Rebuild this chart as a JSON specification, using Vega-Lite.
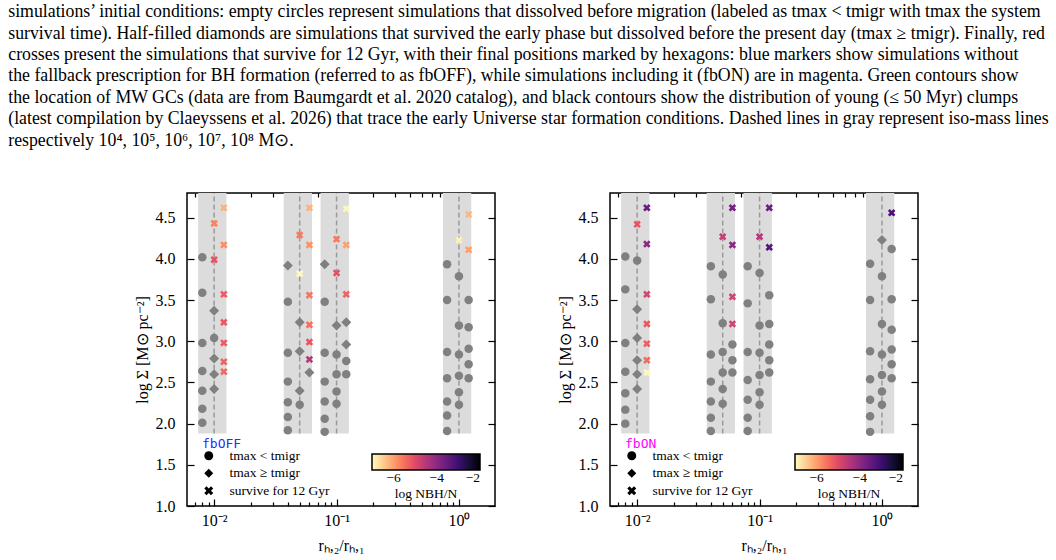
{
 "$schema": "https://vega.github.io/schema/vega-lite/v6.json",
 "padding": {"left": 8, "top": 3, "right": 0, "bottom": 0},
 "title": {
  "text": [
   "simulations’ initial conditions: empty circles represent simulations that dissolved before migration (labeled as tmax < tmigr with tmax the system",
   "survival time). Half-filled diamonds are simulations that survived the early phase but dissolved before the present day (tmax ≥ tmigr). Finally, red",
   "crosses present the simulations that survive for 12 Gyr, with their final positions marked by hexagons: blue markers show simulations without",
   "the fallback prescription for BH formation (referred to as fbOFF), while simulations including it (fbON) are in magenta. Green contours show",
   "the location of MW GCs (data are from Baumgardt et al. 2020 catalog), and black contours show the distribution of young (≤ 50 Myr) clumps",
   "(latest compilation by Claeyssens et al. 2026) that trace the early Universe star formation conditions. Dashed lines in gray represent iso-mass lines",
   "respectively 10⁴, 10⁵, 10⁶, 10⁷, 10⁸ M⊙."
  ],
  "anchor": "start", "frame": "bounds", "dx": -125, "offset": 42,
  "font": "Liberation Serif", "fontSize": 17.8, "fontWeight": "normal", "lineHeight": 21.4, "color": "black"
 },
 "datasets": {
  "bands": [
   {"p": "fbOFF", "c": 0.01, "lo": 0.0074, "hi": 0.0126},
   {"p": "fbOFF", "c": 0.05, "lo": 0.037, "hi": 0.063},
   {"p": "fbOFF", "c": 0.1, "lo": 0.074, "hi": 0.126},
   {"p": "fbOFF", "c": 1, "lo": 0.74, "hi": 1.26},
   {"p": "fbON", "c": 0.01, "lo": 0.0074, "hi": 0.0126},
   {"p": "fbON", "c": 0.05, "lo": 0.037, "hi": 0.063},
   {"p": "fbON", "c": 0.1, "lo": 0.074, "hi": 0.126},
   {"p": "fbON", "c": 1, "lo": 0.74, "hi": 1.26}
  ],
  "pts": [
   {"p": "fbOFF", "x": 0.008, "y": 4.02, "t": "a"},
   {"p": "fbOFF", "x": 0.008, "y": 3.59, "t": "a"},
   {"p": "fbOFF", "x": 0.008, "y": 2.98, "t": "a"},
   {"p": "fbOFF", "x": 0.008, "y": 2.64, "t": "a"},
   {"p": "fbOFF", "x": 0.008, "y": 2.40, "t": "a"},
   {"p": "fbOFF", "x": 0.008, "y": 2.18, "t": "a"},
   {"p": "fbOFF", "x": 0.008, "y": 2.01, "t": "a"},
   {"p": "fbOFF", "x": 0.01, "y": 4.43, "t": "c", "n": -5.7},
   {"p": "fbOFF", "x": 0.01, "y": 3.99, "t": "c", "n": -5.15},
   {"p": "fbOFF", "x": 0.01, "y": 3.37, "t": "b"},
   {"p": "fbOFF", "x": 0.01, "y": 3.04, "t": "a"},
   {"p": "fbOFF", "x": 0.01, "y": 2.79, "t": "b"},
   {"p": "fbOFF", "x": 0.01, "y": 2.60, "t": "b"},
   {"p": "fbOFF", "x": 0.01, "y": 2.42, "t": "b"},
   {"p": "fbOFF", "x": 0.012, "y": 4.62, "t": "c", "n": -6.2},
   {"p": "fbOFF", "x": 0.012, "y": 4.17, "t": "c", "n": -5.8},
   {"p": "fbOFF", "x": 0.012, "y": 3.57, "t": "c", "n": -5.25},
   {"p": "fbOFF", "x": 0.012, "y": 3.23, "t": "c", "n": -5.2},
   {"p": "fbOFF", "x": 0.012, "y": 2.98, "t": "c", "n": -5.25},
   {"p": "fbOFF", "x": 0.012, "y": 2.75, "t": "c", "n": -5.35},
   {"p": "fbOFF", "x": 0.012, "y": 2.63, "t": "c", "n": -5.45},
   {"p": "fbOFF", "x": 0.04, "y": 3.92, "t": "b"},
   {"p": "fbOFF", "x": 0.04, "y": 3.48, "t": "a"},
   {"p": "fbOFF", "x": 0.04, "y": 2.86, "t": "a"},
   {"p": "fbOFF", "x": 0.04, "y": 2.51, "t": "a"},
   {"p": "fbOFF", "x": 0.04, "y": 2.26, "t": "a"},
   {"p": "fbOFF", "x": 0.04, "y": 2.08, "t": "a"},
   {"p": "fbOFF", "x": 0.04, "y": 1.92, "t": "a"},
   {"p": "fbOFF", "x": 0.05, "y": 4.29, "t": "c", "n": -5.6},
   {"p": "fbOFF", "x": 0.05, "y": 3.82, "t": "c", "n": -7.0},
   {"p": "fbOFF", "x": 0.05, "y": 3.23, "t": "b"},
   {"p": "fbOFF", "x": 0.05, "y": 2.88, "t": "b"},
   {"p": "fbOFF", "x": 0.05, "y": 2.40, "t": "b"},
   {"p": "fbOFF", "x": 0.05, "y": 2.23, "t": "a"},
   {"p": "fbOFF", "x": 0.06, "y": 4.62, "t": "c", "n": -6.2},
   {"p": "fbOFF", "x": 0.06, "y": 4.17, "t": "c", "n": -5.85},
   {"p": "fbOFF", "x": 0.06, "y": 3.56, "t": "c", "n": -5.55},
   {"p": "fbOFF", "x": 0.06, "y": 3.20, "t": "c", "n": -5.5},
   {"p": "fbOFF", "x": 0.06, "y": 2.99, "t": "c", "n": -5.15},
   {"p": "fbOFF", "x": 0.06, "y": 2.78, "t": "c", "n": -4.5},
   {"p": "fbOFF", "x": 0.06, "y": 2.62, "t": "b"},
   {"p": "fbOFF", "x": 0.08, "y": 3.935, "t": "b"},
   {"p": "fbOFF", "x": 0.08, "y": 3.48, "t": "a"},
   {"p": "fbOFF", "x": 0.08, "y": 2.86, "t": "a"},
   {"p": "fbOFF", "x": 0.08, "y": 2.51, "t": "a"},
   {"p": "fbOFF", "x": 0.08, "y": 2.27, "t": "a"},
   {"p": "fbOFF", "x": 0.08, "y": 2.06, "t": "a"},
   {"p": "fbOFF", "x": 0.08, "y": 1.90, "t": "a"},
   {"p": "fbOFF", "x": 0.1, "y": 4.24, "t": "c", "n": -5.6},
   {"p": "fbOFF", "x": 0.1, "y": 3.83, "t": "c", "n": -5.1},
   {"p": "fbOFF", "x": 0.1, "y": 3.19, "t": "b"},
   {"p": "fbOFF", "x": 0.1, "y": 2.84, "t": "a"},
   {"p": "fbOFF", "x": 0.1, "y": 2.60, "t": "a"},
   {"p": "fbOFF", "x": 0.1, "y": 2.39, "t": "a"},
   {"p": "fbOFF", "x": 0.1, "y": 2.24, "t": "a"},
   {"p": "fbOFF", "x": 0.12, "y": 4.61, "t": "c", "n": -6.95},
   {"p": "fbOFF", "x": 0.12, "y": 4.17, "t": "c", "n": -6.0},
   {"p": "fbOFF", "x": 0.12, "y": 3.57, "t": "c", "n": -5.35},
   {"p": "fbOFF", "x": 0.12, "y": 3.23, "t": "b"},
   {"p": "fbOFF", "x": 0.12, "y": 2.96, "t": "b"},
   {"p": "fbOFF", "x": 0.12, "y": 2.76, "t": "a"},
   {"p": "fbOFF", "x": 0.12, "y": 2.60, "t": "a"},
   {"p": "fbOFF", "x": 0.8, "y": 3.935, "t": "a"},
   {"p": "fbOFF", "x": 0.8, "y": 3.50, "t": "a"},
   {"p": "fbOFF", "x": 0.8, "y": 2.87, "t": "a"},
   {"p": "fbOFF", "x": 0.8, "y": 2.55, "t": "a"},
   {"p": "fbOFF", "x": 0.8, "y": 2.27, "t": "a"},
   {"p": "fbOFF", "x": 0.8, "y": 2.10, "t": "a"},
   {"p": "fbOFF", "x": 0.8, "y": 1.91, "t": "a"},
   {"p": "fbOFF", "x": 1, "y": 4.23, "t": "c", "n": -6.9},
   {"p": "fbOFF", "x": 1, "y": 3.79, "t": "a"},
   {"p": "fbOFF", "x": 1, "y": 3.19, "t": "a"},
   {"p": "fbOFF", "x": 1, "y": 2.84, "t": "a"},
   {"p": "fbOFF", "x": 1, "y": 2.58, "t": "a"},
   {"p": "fbOFF", "x": 1, "y": 2.38, "t": "a"},
   {"p": "fbOFF", "x": 1, "y": 2.23, "t": "a"},
   {"p": "fbOFF", "x": 1.2, "y": 4.54, "t": "c", "n": -6.25},
   {"p": "fbOFF", "x": 1.2, "y": 4.11, "t": "c", "n": -6.0},
   {"p": "fbOFF", "x": 1.2, "y": 3.50, "t": "a"},
   {"p": "fbOFF", "x": 1.2, "y": 3.17, "t": "a"},
   {"p": "fbOFF", "x": 1.2, "y": 2.91, "t": "a"},
   {"p": "fbOFF", "x": 1.2, "y": 2.72, "t": "a"},
   {"p": "fbOFF", "x": 1.2, "y": 2.55, "t": "a"},

   {"p": "fbON", "x": 0.008, "y": 4.03, "t": "a"},
   {"p": "fbON", "x": 0.008, "y": 3.63, "t": "a"},
   {"p": "fbON", "x": 0.008, "y": 2.98, "t": "a"},
   {"p": "fbON", "x": 0.008, "y": 2.63, "t": "a"},
   {"p": "fbON", "x": 0.008, "y": 2.37, "t": "a"},
   {"p": "fbON", "x": 0.008, "y": 2.17, "t": "a"},
   {"p": "fbON", "x": 0.008, "y": 2.00, "t": "a"},
   {"p": "fbON", "x": 0.01, "y": 4.42, "t": "c", "n": -5.15},
   {"p": "fbON", "x": 0.01, "y": 3.98, "t": "a"},
   {"p": "fbON", "x": 0.01, "y": 3.39, "t": "b"},
   {"p": "fbON", "x": 0.01, "y": 3.04, "t": "b"},
   {"p": "fbON", "x": 0.01, "y": 2.77, "t": "b"},
   {"p": "fbON", "x": 0.01, "y": 2.60, "t": "b"},
   {"p": "fbON", "x": 0.01, "y": 2.42, "t": "b"},
   {"p": "fbON", "x": 0.012, "y": 4.62, "t": "c", "n": -3.55},
   {"p": "fbON", "x": 0.012, "y": 4.18, "t": "c", "n": -4.0},
   {"p": "fbON", "x": 0.012, "y": 3.57, "t": "c", "n": -4.9},
   {"p": "fbON", "x": 0.012, "y": 3.21, "t": "c", "n": -5.2},
   {"p": "fbON", "x": 0.012, "y": 2.97, "t": "c", "n": -5.3},
   {"p": "fbON", "x": 0.012, "y": 2.77, "t": "c", "n": -5.45},
   {"p": "fbON", "x": 0.012, "y": 2.62, "t": "c", "n": -6.95},
   {"p": "fbON", "x": 0.04, "y": 3.91, "t": "a"},
   {"p": "fbON", "x": 0.04, "y": 3.51, "t": "a"},
   {"p": "fbON", "x": 0.04, "y": 2.84, "t": "a"},
   {"p": "fbON", "x": 0.04, "y": 2.51, "t": "a"},
   {"p": "fbON", "x": 0.04, "y": 2.27, "t": "a"},
   {"p": "fbON", "x": 0.04, "y": 2.07, "t": "a"},
   {"p": "fbON", "x": 0.04, "y": 1.91, "t": "a"},
   {"p": "fbON", "x": 0.05, "y": 4.27, "t": "c", "n": -4.7},
   {"p": "fbON", "x": 0.05, "y": 3.81, "t": "a"},
   {"p": "fbON", "x": 0.05, "y": 3.22, "t": "a"},
   {"p": "fbON", "x": 0.05, "y": 2.87, "t": "a"},
   {"p": "fbON", "x": 0.05, "y": 2.62, "t": "a"},
   {"p": "fbON", "x": 0.05, "y": 2.42, "t": "a"},
   {"p": "fbON", "x": 0.05, "y": 2.24, "t": "a"},
   {"p": "fbON", "x": 0.06, "y": 4.62, "t": "c", "n": -3.7},
   {"p": "fbON", "x": 0.06, "y": 4.17, "t": "c", "n": -4.0},
   {"p": "fbON", "x": 0.06, "y": 3.54, "t": "c", "n": -4.85},
   {"p": "fbON", "x": 0.06, "y": 3.21, "t": "c", "n": -4.85},
   {"p": "fbON", "x": 0.06, "y": 2.96, "t": "a"},
   {"p": "fbON", "x": 0.06, "y": 2.77, "t": "a"},
   {"p": "fbON", "x": 0.06, "y": 2.62, "t": "a"},
   {"p": "fbON", "x": 0.08, "y": 3.91, "t": "a"},
   {"p": "fbON", "x": 0.08, "y": 3.46, "t": "a"},
   {"p": "fbON", "x": 0.08, "y": 2.87, "t": "a"},
   {"p": "fbON", "x": 0.08, "y": 2.53, "t": "a"},
   {"p": "fbON", "x": 0.08, "y": 2.29, "t": "a"},
   {"p": "fbON", "x": 0.08, "y": 2.07, "t": "a"},
   {"p": "fbON", "x": 0.08, "y": 1.91, "t": "a"},
   {"p": "fbON", "x": 0.1, "y": 4.27, "t": "c", "n": -4.5},
   {"p": "fbON", "x": 0.1, "y": 3.83, "t": "a"},
   {"p": "fbON", "x": 0.1, "y": 3.19, "t": "a"},
   {"p": "fbON", "x": 0.1, "y": 2.86, "t": "a"},
   {"p": "fbON", "x": 0.1, "y": 2.59, "t": "a"},
   {"p": "fbON", "x": 0.1, "y": 2.38, "t": "a"},
   {"p": "fbON", "x": 0.1, "y": 2.23, "t": "a"},
   {"p": "fbON", "x": 0.12, "y": 4.62, "t": "c", "n": -3.6},
   {"p": "fbON", "x": 0.12, "y": 4.14, "t": "c", "n": -3.3},
   {"p": "fbON", "x": 0.12, "y": 3.56, "t": "a"},
   {"p": "fbON", "x": 0.12, "y": 3.21, "t": "a"},
   {"p": "fbON", "x": 0.12, "y": 2.96, "t": "a"},
   {"p": "fbON", "x": 0.12, "y": 2.77, "t": "a"},
   {"p": "fbON", "x": 0.12, "y": 2.62, "t": "a"},
   {"p": "fbON", "x": 0.8, "y": 3.94, "t": "a"},
   {"p": "fbON", "x": 0.8, "y": 3.50, "t": "a"},
   {"p": "fbON", "x": 0.8, "y": 2.88, "t": "a"},
   {"p": "fbON", "x": 0.8, "y": 2.54, "t": "a"},
   {"p": "fbON", "x": 0.8, "y": 2.29, "t": "a"},
   {"p": "fbON", "x": 0.8, "y": 2.09, "t": "a"},
   {"p": "fbON", "x": 0.8, "y": 1.90, "t": "a"},
   {"p": "fbON", "x": 1, "y": 4.23, "t": "b"},
   {"p": "fbON", "x": 1, "y": 3.79, "t": "a"},
   {"p": "fbON", "x": 1, "y": 3.21, "t": "a"},
   {"p": "fbON", "x": 1, "y": 2.84, "t": "a"},
   {"p": "fbON", "x": 1, "y": 2.59, "t": "a"},
   {"p": "fbON", "x": 1, "y": 2.39, "t": "a"},
   {"p": "fbON", "x": 1, "y": 2.23, "t": "a"},
   {"p": "fbON", "x": 1.2, "y": 4.56, "t": "c", "n": -3.2},
   {"p": "fbON", "x": 1.2, "y": 4.12, "t": "a"},
   {"p": "fbON", "x": 1.2, "y": 3.51, "t": "a"},
   {"p": "fbON", "x": 1.2, "y": 3.14, "t": "a"},
   {"p": "fbON", "x": 1.2, "y": 2.90, "t": "a"},
   {"p": "fbON", "x": 1.2, "y": 2.72, "t": "a"},
   {"p": "fbON", "x": 1.2, "y": 2.55, "t": "a"}
  ]
 },
 "spacing": 59,
 "hconcat": [
  {
   "width": 308, "height": 313,
   "layer": [
    {
     "data": {"name": "bands"},
     "transform": [{"filter": "datum.p === 'fbOFF'"}],
     "mark": {"type": "rect", "color": "#dcdcdc"},
     "encoding": {
      "x": {"field": "lo", "type": "quantitative", "scale": {"type": "log", "domain": [0.006, 1.97], "nice": false},
       "axis": {"orient": "bottom", "title": "rₕ,₂/rₕ,₁", "values": [0.007,0.008,0.009,0.01,0.02,0.03,0.04,0.05,0.06,0.07,0.08,0.09,0.1,0.2,0.3,0.4,0.5,0.6,0.7,0.8,0.9,1],
        "labelExpr": "datum.value == 0.01 ? '10⁻²' : datum.value == 0.1 ? '10⁻¹' : datum.value == 1 ? '10⁰' : ''",
        "tickSize": {"condition": {"test": "datum.value == 0.01 || datum.value == 0.1 || datum.value == 1", "value": -7}, "value": -4},
        "labelPadding": 13, "titlePadding": 6, "labelOverlap": false, "labelFlush": false}},
      "x2": {"field": "hi"},
      "y": {"datum": 1.88, "type": "quantitative", "scale": {"domain": [1, 4.8], "nice": false, "zero": false},
       "axis": {"orient": "left", "title": "log Σ [M⊙ pc⁻²]", "values": [1,1.5,2,2.5,3,3.5,4,4.5], "format": ".1f", "tickSize": -7, "labelPadding": 19, "titlePadding": 5}},
      "y2": {"datum": 4.8}
     }
    },
    {
     "data": {"name": "bands"},
     "transform": [{"filter": "datum.p === 'fbOFF'"}],
     "mark": {"type": "rule", "color": "#9a9a9a", "strokeDash": [5, 3], "strokeWidth": 1.5},
     "encoding": {
      "x": {"field": "c", "type": "quantitative",
       "axis": {"orient": "top", "title": null, "labels": false, "values": [0.007,0.008,0.009,0.01,0.02,0.03,0.04,0.05,0.06,0.07,0.08,0.09,0.1,0.2,0.3,0.4,0.5,0.6,0.7,0.8,0.9,1],
        "tickSize": {"condition": {"test": "datum.value == 0.01 || datum.value == 0.1 || datum.value == 1", "value": -7}, "value": -4}}},
      "y": {"datum": 1.88, "type": "quantitative", "axis": {"orient": "right", "title": null, "labels": false, "values": [1,1.5,2,2.5,3,3.5,4,4.5], "tickSize": -7}},
      "y2": {"datum": 4.8}
     }
    },
    {
     "data": {"name": "pts"},
     "transform": [{"filter": "datum.p === 'fbOFF'"}],
     "mark": {"type": "point", "filled": true, "color": "black", "opacity": 0, "strokeWidth": 0},
     "encoding": {
      "x": {"field": "x", "type": "quantitative", "axis": null},
      "y": {"field": "y", "type": "quantitative", "axis": null},
      "shape": {"field": "t", "type": "nominal", "scale": {"domain": ["a", "b", "c"], "range": ["circle", "diamond", "M-1,-0.5L-0.5,-1L0,-0.5L0.5,-1L1,-0.5L0.5,0L1,0.5L0.5,1L0,0.5L-0.5,1L-1,0.5L-0.5,0Z"]},
       "legend": {"orient": "none", "legendX": 15, "legendY": 245, "title": "fbOFF", "titleColor": "#2a2aff", "titleFont": "DejaVu Sans Mono", "titleFontSize": 13, "titleFontWeight": "normal", "titlePadding": -2,
        "labelExpr": "datum.label == 'a' ? 'tmax < tmigr' : datum.label == 'b' ? 'tmax ≥ tmigr' : 'survive for 12 Gyr'",
        "labelFont": "Liberation Serif", "labelFontSize": 13.5, "labelOffset": 14, "symbolSize": 80, "rowPadding": 1.5, "symbolOpacity": 1, "symbolFillColor": "black", "symbolStrokeColor": "black",
        "encode": {"symbols": {"update": {"fill": {"value": "black"}, "opacity": {"value": 1}}}}}}
     }
    },
    {
     "data": {"name": "pts"},
     "transform": [{"filter": "datum.p === 'fbOFF' && datum.t === 'a'"}],
     "mark": {"type": "point", "filled": true, "color": "#808080", "opacity": 1, "strokeWidth": 0, "size": 72},
     "encoding": {
      "x": {"field": "x", "type": "quantitative", "axis": null},
      "y": {"field": "y", "type": "quantitative", "axis": null},
      "shape": {"field": "t", "type": "nominal", "legend": null}
     }
    },
    {
     "data": {"name": "pts"},
     "transform": [{"filter": "datum.p === 'fbOFF' && datum.t === 'b'"}],
     "mark": {"type": "point", "filled": true, "color": "#808080", "opacity": 1, "strokeWidth": 0, "size": 100},
     "encoding": {
      "x": {"field": "x", "type": "quantitative", "axis": null},
      "y": {"field": "y", "type": "quantitative", "axis": null},
      "shape": {"field": "t", "type": "nominal", "legend": null}
     }
    },
    {
     "data": {"name": "pts"},
     "transform": [{"filter": "datum.p === 'fbOFF' && datum.t === 'c'"}],
     "mark": {"type": "point", "filled": true, "opacity": 1, "strokeWidth": 0, "size": 56},
     "encoding": {
      "x": {"field": "x", "type": "quantitative", "axis": null},
      "y": {"field": "y", "type": "quantitative", "axis": null},
      "shape": {"field": "t", "type": "nominal", "legend": null},
      "color": {"field": "n", "type": "quantitative", "scale": {"scheme": "magma", "reverse": true, "domain": [-7, -2]},
       "legend": {"orient": "none", "legendX": 185, "legendY": 261, "direction": "horizontal", "gradientLength": 108, "gradientThickness": 16,
        "values": [-6, -4, -2], "title": "log NBH/N", "titleOrient": "bottom", "titleAnchor": "middle", "titleFont": "Liberation Serif", "titleFontSize": 13.5, "titleFontWeight": "normal", "titlePadding": 2,
        "labelFont": "Liberation Serif", "labelFontSize": 13.5, "labelAlign": "center", "labelOffset": 1, "gradientStrokeColor": "black", "gradientStrokeWidth": 1.5}}
     }
    }
   ],
   "resolve": {"axis": {"x": "independent", "y": "independent"}}
  },
  {
   "width": 308, "height": 313,
   "layer": [
    {
     "data": {"name": "bands"},
     "transform": [{"filter": "datum.p === 'fbON'"}],
     "mark": {"type": "rect", "color": "#dcdcdc"},
     "encoding": {
      "x": {"field": "lo", "type": "quantitative", "scale": {"type": "log", "domain": [0.006, 1.97], "nice": false},
       "axis": {"orient": "bottom", "title": "rₕ,₂/rₕ,₁", "values": [0.007,0.008,0.009,0.01,0.02,0.03,0.04,0.05,0.06,0.07,0.08,0.09,0.1,0.2,0.3,0.4,0.5,0.6,0.7,0.8,0.9,1],
        "labelExpr": "datum.value == 0.01 ? '10⁻²' : datum.value == 0.1 ? '10⁻¹' : datum.value == 1 ? '10⁰' : ''",
        "tickSize": {"condition": {"test": "datum.value == 0.01 || datum.value == 0.1 || datum.value == 1", "value": -7}, "value": -4},
        "labelPadding": 13, "titlePadding": 6, "labelOverlap": false, "labelFlush": false}},
      "x2": {"field": "hi"},
      "y": {"datum": 1.88, "type": "quantitative", "scale": {"domain": [1, 4.8], "nice": false, "zero": false},
       "axis": {"orient": "left", "title": "log Σ [M⊙ pc⁻²]", "values": [1,1.5,2,2.5,3,3.5,4,4.5], "format": ".1f", "tickSize": -7, "labelPadding": 19, "titlePadding": 5}},
      "y2": {"datum": 4.8}
     }
    },
    {
     "data": {"name": "bands"},
     "transform": [{"filter": "datum.p === 'fbON'"}],
     "mark": {"type": "rule", "color": "#9a9a9a", "strokeDash": [5, 3], "strokeWidth": 1.5},
     "encoding": {
      "x": {"field": "c", "type": "quantitative",
       "axis": {"orient": "top", "title": null, "labels": false, "values": [0.007,0.008,0.009,0.01,0.02,0.03,0.04,0.05,0.06,0.07,0.08,0.09,0.1,0.2,0.3,0.4,0.5,0.6,0.7,0.8,0.9,1],
        "tickSize": {"condition": {"test": "datum.value == 0.01 || datum.value == 0.1 || datum.value == 1", "value": -7}, "value": -4}}},
      "y": {"datum": 1.88, "type": "quantitative", "axis": {"orient": "right", "title": null, "labels": false, "values": [1,1.5,2,2.5,3,3.5,4,4.5], "tickSize": -7}},
      "y2": {"datum": 4.8}
     }
    },
    {
     "data": {"name": "pts"},
     "transform": [{"filter": "datum.p === 'fbON'"}],
     "mark": {"type": "point", "filled": true, "color": "black", "opacity": 0, "strokeWidth": 0},
     "encoding": {
      "x": {"field": "x", "type": "quantitative", "axis": null},
      "y": {"field": "y", "type": "quantitative", "axis": null},
      "shape": {"field": "t", "type": "nominal", "scale": {"domain": ["a", "b", "c"], "range": ["circle", "diamond", "M-1,-0.5L-0.5,-1L0,-0.5L0.5,-1L1,-0.5L0.5,0L1,0.5L0.5,1L0,0.5L-0.5,1L-1,0.5L-0.5,0Z"]},
       "legend": {"orient": "none", "legendX": 15, "legendY": 245, "title": "fbON", "titleColor": "#ff00ff", "titleFont": "DejaVu Sans Mono", "titleFontSize": 13, "titleFontWeight": "normal", "titlePadding": -2,
        "labelExpr": "datum.label == 'a' ? 'tmax < tmigr' : datum.label == 'b' ? 'tmax ≥ tmigr' : 'survive for 12 Gyr'",
        "labelFont": "Liberation Serif", "labelFontSize": 13.5, "labelOffset": 14, "symbolSize": 80, "rowPadding": 1.5, "symbolOpacity": 1, "symbolFillColor": "black", "symbolStrokeColor": "black",
        "encode": {"symbols": {"update": {"fill": {"value": "black"}, "opacity": {"value": 1}}}}}}
     }
    },
    {
     "data": {"name": "pts"},
     "transform": [{"filter": "datum.p === 'fbON' && datum.t === 'a'"}],
     "mark": {"type": "point", "filled": true, "color": "#808080", "opacity": 1, "strokeWidth": 0, "size": 72},
     "encoding": {
      "x": {"field": "x", "type": "quantitative", "axis": null},
      "y": {"field": "y", "type": "quantitative", "axis": null},
      "shape": {"field": "t", "type": "nominal", "legend": null}
     }
    },
    {
     "data": {"name": "pts"},
     "transform": [{"filter": "datum.p === 'fbON' && datum.t === 'b'"}],
     "mark": {"type": "point", "filled": true, "color": "#808080", "opacity": 1, "strokeWidth": 0, "size": 100},
     "encoding": {
      "x": {"field": "x", "type": "quantitative", "axis": null},
      "y": {"field": "y", "type": "quantitative", "axis": null},
      "shape": {"field": "t", "type": "nominal", "legend": null}
     }
    },
    {
     "data": {"name": "pts"},
     "transform": [{"filter": "datum.p === 'fbON' && datum.t === 'c'"}],
     "mark": {"type": "point", "filled": true, "opacity": 1, "strokeWidth": 0, "size": 56},
     "encoding": {
      "x": {"field": "x", "type": "quantitative", "axis": null},
      "y": {"field": "y", "type": "quantitative", "axis": null},
      "shape": {"field": "t", "type": "nominal", "legend": null},
      "color": {"field": "n", "type": "quantitative", "scale": {"scheme": "magma", "reverse": true, "domain": [-7, -2]},
       "legend": {"orient": "none", "legendX": 185, "legendY": 261, "direction": "horizontal", "gradientLength": 108, "gradientThickness": 16,
        "values": [-6, -4, -2], "title": "log NBH/N", "titleOrient": "bottom", "titleAnchor": "middle", "titleFont": "Liberation Serif", "titleFontSize": 13.5, "titleFontWeight": "normal", "titlePadding": 2,
        "labelFont": "Liberation Serif", "labelFontSize": 13.5, "labelAlign": "center", "labelOffset": 1, "gradientStrokeColor": "black", "gradientStrokeWidth": 1.5}}
     }
    }
   ],
   "resolve": {"axis": {"x": "independent", "y": "independent"}}
  }
 ],
 "resolve": {"scale": {"color": "independent", "shape": "independent"}, "legend": {"color": "independent", "shape": "independent"}},
 "config": {
  "view": {"stroke": "black", "strokeWidth": 1.5},
  "font": "Liberation Serif",
  "axis": {"domain": false, "grid": false, "tickColor": "black", "tickWidth": 1.2, "labelColor": "black", "titleColor": "black",
   "labelFont": "Liberation Serif", "labelFontSize": 16, "titleFont": "Liberation Serif", "titleFontSize": 16, "titleFontWeight": "normal"},
  "legend": {"labelColor": "black", "titleColor": "black"}
 }
}
